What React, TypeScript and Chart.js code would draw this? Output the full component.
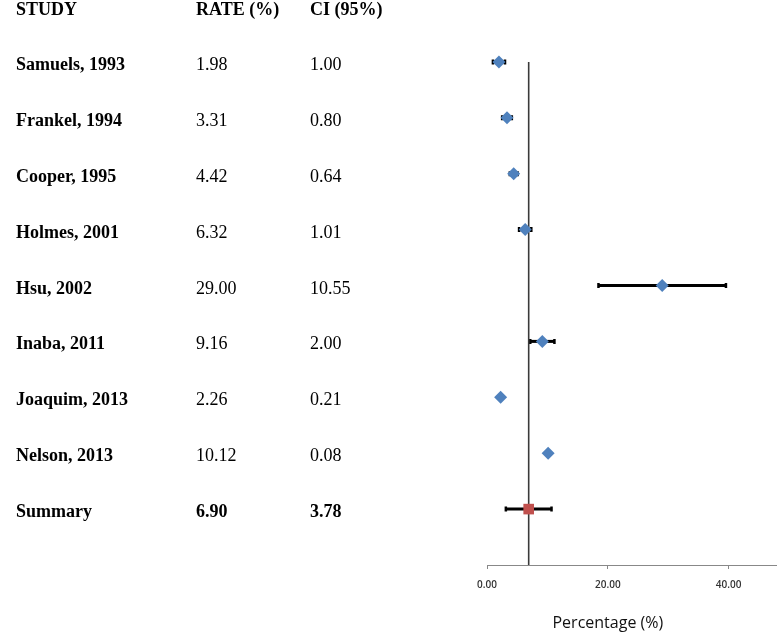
import React, { useEffect, useRef } from "react";
import { Chart, registerables } from "chart.js";

Chart.register(...registerables);

const headers = ["STUDY", "RATE (%)", "CI (95%)"];
const studies = [
  "Samuels, 1993",
  "Frankel, 1994",
  "Cooper, 1995",
  "Holmes, 2001",
  "Hsu, 2002",
  "Inaba, 2011",
  "Joaquim, 2013",
  "Nelson, 2013",
];
const rates = [1.98, 3.31, 4.42, 6.32, 29.0, 9.16, 2.26, 10.12];
const cis = [1.0, 0.8, 0.64, 1.01, 10.55, 2.0, 0.21, 0.08];
const summaryLabel = "Summary";
const summaryRate = 6.9;
const summaryCi = 3.78;
const xTicks = [0, 20, 40];
const xTitle = "Percentage (%)";

const COL_X = [16, 196, 310];
const SERIF = "'Liberation Serif', 'Times New Roman', serif";

const forestPlugin = {
  id: "forest",
  beforeDatasetsDraw(chart: any) {
    const { ctx, scales } = chart;
    const x = scales.x;
    const y = scales.y;
    const rows: [number, number, number][] = rates.map((r, i) => [r, cis[i], i] as [number, number, number]);
    rows.push([summaryRate, summaryCi, studies.length]);
    ctx.save();
    ctx.strokeStyle = "#000";
    rows.forEach(([r, c, i]) => {
      const x1 = x.getPixelForValue(r - c);
      const x2 = x.getPixelForValue(r + c);
      const yy = y.getPixelForValue(i);
      ctx.lineWidth = 3;
      ctx.beginPath();
      ctx.moveTo(x1, yy);
      ctx.lineTo(x2, yy);
      ctx.stroke();
      ctx.lineWidth = 2.5;
      ctx.beginPath();
      ctx.moveTo(x1, yy - 2.5);
      ctx.lineTo(x1, yy + 2.5);
      ctx.moveTo(x2, yy - 2.5);
      ctx.lineTo(x2, yy + 2.5);
      ctx.stroke();
    });
    ctx.restore();
  },
  afterDraw(chart: any) {
    const { ctx, scales } = chart;
    const x = scales.x;
    const y = scales.y;
    ctx.save();
    ctx.fillStyle = "#000";
    ctx.textBaseline = "alphabetic";
    ctx.textAlign = "left";
    ctx.font = `bold 18px ${SERIF}`;
    const hy = y.getPixelForValue(-1) + 9;
    headers.forEach((h, k) => ctx.fillText(h, COL_X[k], hy));
    studies.forEach((s, i) => {
      const yy = y.getPixelForValue(i) + 8;
      ctx.font = `bold 18px ${SERIF}`;
      ctx.fillText(s, COL_X[0], yy);
      ctx.font = `18px ${SERIF}`;
      ctx.fillText(rates[i].toFixed(2), COL_X[1], yy);
      ctx.fillText(cis[i].toFixed(2), COL_X[2], yy);
    });
    const sy = y.getPixelForValue(studies.length) + 8;
    ctx.font = `bold 18px ${SERIF}`;
    ctx.fillText(summaryLabel, COL_X[0], sy);
    ctx.fillText(summaryRate.toFixed(2), COL_X[1], sy);
    ctx.fillText(summaryCi.toFixed(2), COL_X[2], sy);

    ctx.font = "16px 'Open Sans', 'Liberation Sans', sans-serif";
    ctx.textAlign = "center";
    ctx.fillStyle = "#111";
    const cx = (x.getPixelForValue(xTicks[0]) + x.getPixelForValue(xTicks[xTicks.length - 1])) / 2;
    ctx.fillText(xTitle, cx, chart.height - 4);
    ctx.restore();
  },
};

export default function App() {
  const canvasRef = useRef<HTMLCanvasElement | null>(null);

  useEffect(() => {
    const canvas = canvasRef.current;
    if (!canvas) return;
    const chart = new Chart(canvas, {
      type: "scatter",
      data: {
        datasets: [
          {
            label: "Studies",
            data: rates.map((r, i) => ({ x: r, y: i })),
            pointStyle: "rectRot",
            pointRadius: 6.5,
            pointBackgroundColor: "#4f81bd",
            pointBorderWidth: 0,
            showLine: false,
            order: 1,
          },
          {
            label: "Summary",
            data: [{ x: summaryRate, y: studies.length }],
            pointStyle: "rect",
            pointRadius: 7.5,
            pointBackgroundColor: "#c0504d",
            pointBorderWidth: 0,
            showLine: false,
            order: 0,
          },
          {
            label: "Reference",
            data: [
              { x: summaryRate, y: 0 },
              { x: summaryRate, y: studies.length + 1 },
            ],
            showLine: true,
            borderColor: "#3a3a3a",
            borderWidth: 1.6,
            pointRadius: 0,
            order: 5,
          },
        ],
      },
      options: {
        animation: false,
        responsive: false,
        events: [],
        layout: { autoPadding: false, padding: { left: 487, right: 0, top: 6, bottom: 0 } },
        plugins: {
          legend: { display: false },
          tooltip: { enabled: false },
        },
        scales: {
          x: {
            type: "linear",
            min: 0,
            max: 48,
            afterBuildTicks: (scale: any) => {
              scale.ticks = xTicks.map((v) => ({ value: v }));
            },
            afterFit: (scale: any) => {
              scale.height = 67;
            },
            grid: {
              drawOnChartArea: false,
              drawTicks: true,
              tickLength: 4,
              color: "#888",
            },
            border: { display: true, color: "#888", width: 1 },
            ticks: {
              padding: 10,
              color: "#333",
              maxRotation: 0,
              font: { family: "'Open Sans', 'Liberation Sans', sans-serif", size: 10, weight: 600 },
              callback: (v: any) => Number(v).toFixed(2),
            },
          },
          y: {
            type: "linear",
            display: false,
            reverse: true,
            min: -1,
            max: studies.length + 1,
          },
        },
      },
      plugins: [forestPlugin],
    });
    return () => chart.destroy();
  }, []);

  return (
    <div style={{ position: "fixed", left: 0, top: 0, width: 777, height: 632, background: "#fff" }}>
      <canvas ref={canvasRef} width={777} height={632} style={{ display: "block" }} />
    </div>
  );
}
